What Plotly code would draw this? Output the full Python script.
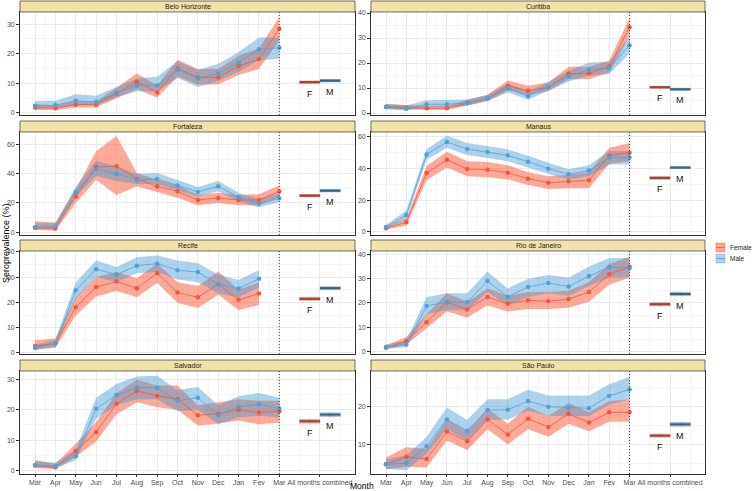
import plotly.graph_objects as go

# ---------------- data ----------------
MONTHS = ["Mar", "Apr", "May", "Jun", "Jul", "Aug", "Sep", "Oct", "Nov", "Dec", "Jan", "Fev", "Mar"]
COMBINED_LABEL = "All months combined"
CITIES = ["Belo Horizonte", "Curitiba", "Fortaleza", "Manaus",
          "Recife", "Rio de Janeiro", "Salvador", "São Paulo"]
SEXES = ["Female", "Male"]

# Belo Horizonte
BH_F = [1.8, 1.6, 2.8, 2.8, 6.6, 10.5, 6.9, 15.0, 12.0, 12.0, 15.9, 18.1, 28.4]
BH_F_LO = [1.0, 0.9, 1.8, 1.8, 5.0, 8.0, 5.2, 12.2, 9.6, 9.6, 12.8, 14.8, 24.5]
BH_F_HI = [2.9, 2.6, 4.0, 3.9, 8.5, 13.3, 9.3, 18.0, 14.8, 14.8, 19.3, 21.8, 32.4]
BH_M = [2.4, 2.6, 4.1, 3.7, 6.8, 9.3, 9.3, 14.5, 11.6, 13.4, 17.0, 21.5, 22.0]
BH_M_LO = [1.4, 1.6, 2.8, 2.6, 5.3, 7.3, 7.3, 11.8, 8.8, 10.8, 13.9, 17.8, 18.3]
BH_M_HI = [4.0, 4.1, 6.3, 5.8, 8.8, 11.6, 12.2, 17.5, 14.5, 16.6, 20.5, 25.5, 25.5]

# Curitiba
CU_F = [2.5, 2.1, 1.9, 1.9, 4.0, 5.9, 10.9, 8.9, 10.3, 15.7, 15.9, 18.5, 34.3]
CU_F_LO = [1.6, 1.3, 1.2, 1.2, 3.0, 4.7, 9.0, 7.2, 8.8, 13.5, 13.5, 16.2, 30.8]
CU_F_HI = [3.6, 3.2, 2.8, 2.9, 5.3, 7.3, 13.0, 10.9, 12.2, 18.5, 18.5, 21.0, 38.0]
CU_M = [2.4, 1.7, 3.5, 3.5, 4.0, 5.9, 9.9, 6.7, 10.5, 14.7, 17.3, 17.9, 27.1]
CU_M_LO = [1.5, 1.0, 2.3, 2.3, 3.0, 4.8, 8.2, 5.3, 8.9, 12.6, 15.0, 15.6, 23.8]
CU_M_HI = [3.7, 3.0, 5.1, 5.1, 5.4, 7.2, 11.8, 8.5, 12.5, 16.9, 20.2, 20.4, 30.5]

# Fortaleza
FO_F = [3.0, 2.5, 24.5, 44.7, 45.2, 36.5, 31.4, 28.0, 22.0, 23.4, 22.0, 22.0, 27.8]
FO_F_LO = [1.5, 1.0, 20.0, 36.0, 25.5, 31.5, 27.5, 23.5, 18.5, 20.0, 18.5, 18.5, 23.5]
FO_F_HI = [7.5, 6.5, 29.5, 55.5, 66.0, 40.5, 36.0, 32.0, 25.5, 27.0, 25.5, 26.0, 32.0]
FO_M = [3.4, 3.9, 27.5, 43.3, 40.1, 35.8, 36.5, 31.9, 27.5, 31.4, 23.9, 19.5, 23.2]
FO_M_LO = [2.0, 2.5, 24.0, 38.5, 35.0, 33.0, 33.0, 28.5, 24.5, 28.0, 21.0, 17.0, 20.5]
FO_M_HI = [6.0, 6.0, 31.0, 49.0, 45.0, 40.0, 40.5, 35.5, 31.0, 35.0, 27.0, 22.5, 26.5]

# Manaus
MA_F = [2.3, 6.1, 37.1, 45.5, 39.6, 39.2, 37.3, 33.5, 31.0, 31.9, 32.5, 48.0, 49.9]
MA_F_LO = [1.5, 4.0, 32.5, 40.5, 35.0, 34.5, 33.0, 29.5, 27.0, 27.5, 27.5, 43.0, 44.5]
MA_F_HI = [3.3, 8.5, 41.5, 50.5, 44.5, 44.0, 42.0, 37.5, 35.0, 36.0, 37.5, 53.0, 56.0]
MA_M = [3.1, 10.7, 48.8, 56.6, 52.2, 50.3, 48.2, 44.2, 39.8, 36.3, 38.6, 46.8, 46.8]
MA_M_LO = [2.0, 8.0, 45.5, 53.0, 48.5, 46.5, 44.5, 40.5, 36.5, 33.0, 35.0, 42.5, 42.5]
MA_M_HI = [4.5, 13.5, 52.0, 60.5, 56.0, 54.0, 52.0, 48.0, 43.5, 39.5, 42.0, 51.0, 51.0]

# Recife (no March 2021 sample)
RE_F = [2.8, 3.7, 18.1, 26.1, 28.2, 25.6, 31.5, 23.9, 22.0, 27.2, 21.0, 23.5]
RE_F_LO = [1.3, 2.1, 14.8, 22.3, 24.5, 22.0, 27.8, 19.8, 17.8, 23.0, 17.0, 19.0]
RE_F_HI = [5.0, 5.7, 22.0, 30.0, 32.0, 29.5, 35.5, 28.0, 26.5, 32.2, 25.0, 28.0]
RE_M = [2.1, 3.8, 24.8, 33.1, 31.0, 34.5, 35.3, 32.7, 32.0, 27.2, 25.5, 29.3]
RE_M_LO = [1.3, 2.5, 21.5, 30.0, 28.0, 31.5, 32.0, 29.0, 28.0, 23.5, 22.0, 25.8]
RE_M_HI = [3.3, 5.2, 28.0, 36.5, 34.0, 37.8, 38.5, 36.5, 35.5, 31.0, 28.8, 32.8]

# Rio de Janeiro
RJ_F = [1.6, 4.2, 12.1, 20.3, 17.3, 22.5, 19.7, 21.1, 20.7, 21.6, 24.5, 31.8, 34.9]
RJ_F_LO = [1.0, 2.8, 9.5, 16.5, 14.0, 19.0, 16.5, 17.5, 17.5, 18.0, 20.5, 27.5, 30.5]
RJ_F_HI = [2.5, 6.0, 15.5, 24.0, 20.5, 26.0, 23.0, 24.5, 24.5, 25.0, 28.5, 36.0, 39.0]
RJ_M = [1.9, 2.9, 18.8, 20.4, 20.4, 29.0, 22.6, 26.6, 28.2, 26.8, 31.1, 34.7, 34.4]
RJ_M_LO = [1.2, 1.8, 15.5, 17.0, 17.0, 24.5, 19.0, 22.5, 24.0, 23.0, 27.0, 30.5, 30.5]
RJ_M_HI = [3.0, 4.5, 22.5, 24.0, 24.0, 33.0, 26.0, 30.0, 31.5, 30.5, 35.0, 38.5, 38.5]

# Salvador
SA_F = [1.6, 1.0, 6.4, 12.6, 22.0, 26.2, 24.6, 23.5, 18.2, 18.7, 20.0, 19.1, 19.5]
SA_F_LO = [0.8, 0.4, 4.5, 9.5, 18.5, 22.5, 20.8, 20.0, 14.8, 15.5, 16.5, 15.2, 15.8]
SA_F_HI = [3.4, 2.2, 8.8, 16.0, 25.5, 30.0, 28.0, 28.0, 21.5, 22.5, 23.5, 23.0, 23.0]
SA_M = [1.8, 1.4, 4.7, 20.3, 24.9, 27.3, 27.3, 23.0, 24.0, 18.2, 21.0, 21.8, 20.4]
SA_M_LO = [1.0, 0.8, 3.3, 17.0, 21.5, 23.5, 23.5, 19.5, 20.0, 15.2, 17.5, 18.0, 17.5]
SA_M_HI = [3.0, 2.5, 6.8, 24.0, 28.5, 31.0, 31.2, 26.5, 27.5, 21.5, 24.5, 25.5, 24.0]

# São Paulo
SP_F = [4.7, 6.7, 6.1, 13.4, 10.8, 16.6, 12.6, 16.8, 14.6, 18.1, 15.8, 18.5, 18.5]
SP_F_LO = [3.3, 4.0, 3.8, 11.0, 8.5, 14.0, 10.0, 14.0, 12.0, 15.5, 13.5, 16.0, 16.0]
SP_F_HI = [6.5, 9.2, 8.8, 16.5, 13.5, 19.5, 15.5, 20.0, 17.5, 21.0, 18.5, 21.5, 22.0]
SP_M = [4.7, 5.0, 9.5, 16.6, 13.6, 19.1, 19.2, 21.5, 20.0, 19.7, 19.6, 22.9, 24.6]
SP_M_LO = [3.5, 3.0, 7.5, 14.0, 11.0, 16.5, 16.5, 19.0, 17.5, 17.5, 17.5, 20.5, 22.0]
SP_M_HI = [6.0, 7.0, 12.0, 19.8, 16.5, 22.0, 22.0, 24.5, 23.0, 23.0, 23.0, 26.0, 28.0]

# All months combined (city order as CITIES)
COMB_F = [10.4, 10.3, 25.0, 34.0, 21.4, 19.5, 16.2, 12.3]
COMB_F_LO = [9.9, 9.9, 24.2, 33.2, 20.8, 18.8, 15.6, 11.9]
COMB_F_HI = [10.8, 10.7, 25.8, 34.8, 22.0, 20.1, 16.8, 12.7]
COMB_M = [10.9, 9.5, 28.4, 40.5, 25.6, 23.7, 18.4, 15.3]
COMB_M_LO = [10.5, 9.1, 27.6, 39.9, 25.0, 23.0, 17.8, 14.8]
COMB_M_HI = [11.3, 9.9, 29.2, 41.1, 26.2, 24.4, 19.0, 15.8]

SERIES = {
    "Belo Horizonte": (BH_F, BH_F_LO, BH_F_HI, BH_M, BH_M_LO, BH_M_HI),
    "Curitiba": (CU_F, CU_F_LO, CU_F_HI, CU_M, CU_M_LO, CU_M_HI),
    "Fortaleza": (FO_F, FO_F_LO, FO_F_HI, FO_M, FO_M_LO, FO_M_HI),
    "Manaus": (MA_F, MA_F_LO, MA_F_HI, MA_M, MA_M_LO, MA_M_HI),
    "Recife": (RE_F, RE_F_LO, RE_F_HI, RE_M, RE_M_LO, RE_M_HI),
    "Rio de Janeiro": (RJ_F, RJ_F_LO, RJ_F_HI, RJ_M, RJ_M_LO, RJ_M_HI),
    "Salvador": (SA_F, SA_F_LO, SA_F_HI, SA_M, SA_M_LO, SA_M_HI),
    "São Paulo": (SP_F, SP_F_LO, SP_F_HI, SP_M, SP_M_LO, SP_M_HI),
}

# ---------------- styling / layout ----------------
W, H = 754, 491
Y_RANGES = {
    "Belo Horizonte": ([-0.7, 34.1], 10),
    "Curitiba": ([-0.8, 40.4], 10),
    "Fortaleza": ([-2.0, 68.7], 20),
    "Manaus": ([-1.9, 62.9], 20),
    "Recife": ([-0.4, 40.3], 10),
    "Rio de Janeiro": ([-1.0, 41.4], 10),
    "Salvador": ([-1.2, 32.8], 10),
    "São Paulo": ([2.1, 29.5], 10),
}
COL_PX = [(20, 355), (371, 705)]
ROW_PX = [(1, 12, 115), (121, 132, 235), (240, 251, 354), (360, 371, 474)]  # strip top, panel top, panel bottom

F_COL = "#F8553A"
M_COL = "#4DA3D6"
F_FILL = "rgba(255,75,40,0.48)"
M_FILL = "rgba(60,150,210,0.42)"
F_BAR = "#B8382A"
M_BAR = "#2D6690"
FONT = "Liberation Sans, Arial, sans-serif"

n_months = len(MONTHS)
comb_pos = n_months + 2
tickvals = list(range(1, n_months + 1)) + [comb_pos]
ticktext = MONTHS + [COMBINED_LABEL]
minor_x = [i + 0.5 for i in range(1, n_months)] + [n_months + 1, comb_pos + 1]

fig = go.Figure()
shapes = []
annotations = []

for i, city in enumerate(CITIES):
    r, c = divmod(i, 2)
    sfx = "" if i == 0 else str(i + 1)
    xs, ys = "x" + sfx, "y" + sfx
    f, flo, fhi, m, mlo, mhi = SERIES[city]
    xv = list(range(1, len(f) + 1))

    for name, lo, hi, fill in (("Female", flo, fhi, F_FILL), ("Male", mlo, mhi, M_FILL)):
        fig.add_trace(go.Scatter(
            x=xv + xv[::-1], y=hi + lo[::-1], fill="toself", fillcolor=fill,
            mode="lines", line=dict(width=0), xaxis=xs, yaxis=ys,
            name=name, showlegend=False, hoverinfo="skip"))
    for name, est, col in (("Female", f, F_COL), ("Male", m, M_COL)):
        fig.add_trace(go.Scatter(
            x=xv, y=est, mode="lines+markers", line=dict(color=col, width=0.8),
            marker=dict(color=col, size=4.5), xaxis=xs, yaxis=ys,
            name=name, showlegend=False))

    # combined crossbars
    for k, (name, est, lo, hi, col, lab) in enumerate((
            ("Female", COMB_F[i], COMB_F_LO[i], COMB_F_HI[i], F_BAR, "F"),
            ("Male", COMB_M[i], COMB_M_LO[i], COMB_M_HI[i], M_BAR, "M"))):
        cx = comb_pos - 0.5 + k
        x0, x1 = cx - 0.5, cx + 0.5
        fig.add_trace(go.Scatter(
            x=[x0, x1, x1, x0, x0], y=[lo, lo, hi, hi, lo], fill="toself",
            fillcolor="rgba(200,200,200,0.55)", mode="lines",
            line=dict(color="#A8A8A8", width=0.7), xaxis=xs, yaxis=ys,
            showlegend=False, hoverinfo="skip"))
        fig.add_trace(go.Scatter(
            x=[cx, cx], y=[lo, hi], mode="lines", line=dict(color="#777777", width=0.7),
            xaxis=xs, yaxis=ys, showlegend=False, hoverinfo="skip"))
        fig.add_trace(go.Scatter(
            x=[x0, x1], y=[est, est], mode="lines", line=dict(color=col, width=2.2),
            xaxis=xs, yaxis=ys, showlegend=False, name=name))
        annotations.append(dict(
            x=cx, y=lo, xref=xs, yref=ys, text=lab, showarrow=False,
            yanchor="top", yshift=-3, font=dict(size=9, color="#111111", family=FONT)))

    # dotted separator at final month
    shapes.append(dict(type="line", xref=xs, yref=ys + " domain", x0=n_months, x1=n_months,
                       y0=0, y1=1, line=dict(color="#333333", width=0.9, dash="1px,2px")))

    xl, xr = COL_PX[c]
    st, pt, pb = ROW_PX[r]
    xdom = [xl / W, xr / W]
    ydom = [1 - pb / H, 1 - pt / H]
    yr, dt = Y_RANGES[city]
    bottom = r == 3
    fig.layout["xaxis" + sfx] = dict(
        domain=xdom, anchor=ys, range=[0.26, 16.72], tickmode="array",
        tickvals=tickvals, ticktext=ticktext, showticklabels=bottom, tickangle=0,
        ticks="outside" if bottom else "", ticklen=2, tickcolor="#333333", tickwidth=0.7,
        tickfont=dict(size=7, color="#4D4D4D", family=FONT),
        showgrid=True, gridcolor="#EBEBEB", gridwidth=0.7,
        minor=dict(tickmode="array", tickvals=minor_x, showgrid=True,
                   gridcolor="#F5F5F5", gridwidth=0.5),
        showline=True, mirror=True, linecolor="#333333", linewidth=0.8,
        zeroline=False, automargin=False, fixedrange=True)
    fig.layout["yaxis" + sfx] = dict(
        domain=ydom, anchor=xs, range=yr, dtick=dt, tick0=0,
        ticks="outside", ticklen=3, tickcolor="#333333", tickwidth=0.7,
        tickfont=dict(size=7, color="#4D4D4D", family=FONT),
        showgrid=True, gridcolor="#EBEBEB", gridwidth=0.7,
        minor=dict(dtick=dt / 2, tick0=0, showgrid=True, gridcolor="#F5F5F5", gridwidth=0.5),
        showline=True, mirror=True, linecolor="#333333", linewidth=0.8,
        zeroline=False, automargin=False, fixedrange=True)

    # facet strip
    shapes.append(dict(type="rect", xref="paper", yref="paper", x0=xl / W, x1=xr / W,
                       y0=1 - pt / H, y1=1 - st / H, fillcolor="#F0E2A8",
                       line=dict(color="#333333", width=0.7), layer="above"))
    annotations.append(dict(x=(xl + xr) / 2 / W, y=1 - (st + pt) / 2 / H, xref="paper", yref="paper",
                            text=city, showarrow=False, xanchor="center", yanchor="middle",
                            font=dict(size=7, color="#1A1A1A", family=FONT)))

# legend keys (drawn as in ggplot: filled key with coloured outline and centre line)
LEG_X0, LEG_Y0, LEG_STEP, KEY = 716, 243, 11, 9
for j, (sex, fill, col) in enumerate(zip(SEXES, (F_FILL, M_FILL), (F_COL, M_COL))):
    y_top = LEG_Y0 + j * LEG_STEP
    shapes.append(dict(type="rect", xref="paper", yref="paper",
                       x0=LEG_X0 / W, x1=(LEG_X0 + KEY) / W,
                       y0=1 - (y_top + KEY) / H, y1=1 - y_top / H,
                       fillcolor=fill, line=dict(color=fill, width=0.8)))
    shapes.append(dict(type="line", xref="paper", yref="paper",
                       x0=LEG_X0 / W, x1=(LEG_X0 + KEY) / W,
                       y0=1 - (y_top + KEY / 2) / H, y1=1 - (y_top + KEY / 2) / H,
                       line=dict(color=col, width=0.8)))
    annotations.append(dict(x=(LEG_X0 + KEY + 3) / W, y=1 - (y_top + KEY / 2) / H,
                            xref="paper", yref="paper", text=sex, showarrow=False,
                            xanchor="left", yanchor="middle",
                            font=dict(size=6.5, color="#222222", family=FONT)))

annotations.append(dict(x=6 / W, y=1 - 243 / H, xref="paper", yref="paper",
                        text="Seroprevalence (%)", textangle=-90, showarrow=False,
                        xanchor="center", yanchor="middle",
                        font=dict(size=9, color="#000000", family=FONT)))
annotations.append(dict(x=362 / W, y=1 - 485.5 / H, xref="paper", yref="paper",
                        text="Month", showarrow=False, xanchor="center", yanchor="middle",
                        font=dict(size=8.5, color="#000000", family=FONT)))

fig.update_layout(
    width=W, height=H, margin=dict(l=0, r=0, t=0, b=0),
    paper_bgcolor="white", plot_bgcolor="white",
    shapes=shapes, annotations=annotations,
    font=dict(family=FONT), showlegend=False,
)

fig.write_html("out.html", config={"displayModeBar": False},
               post_script="document.body.style.margin='0px';document.body.style.overflow='hidden';")
